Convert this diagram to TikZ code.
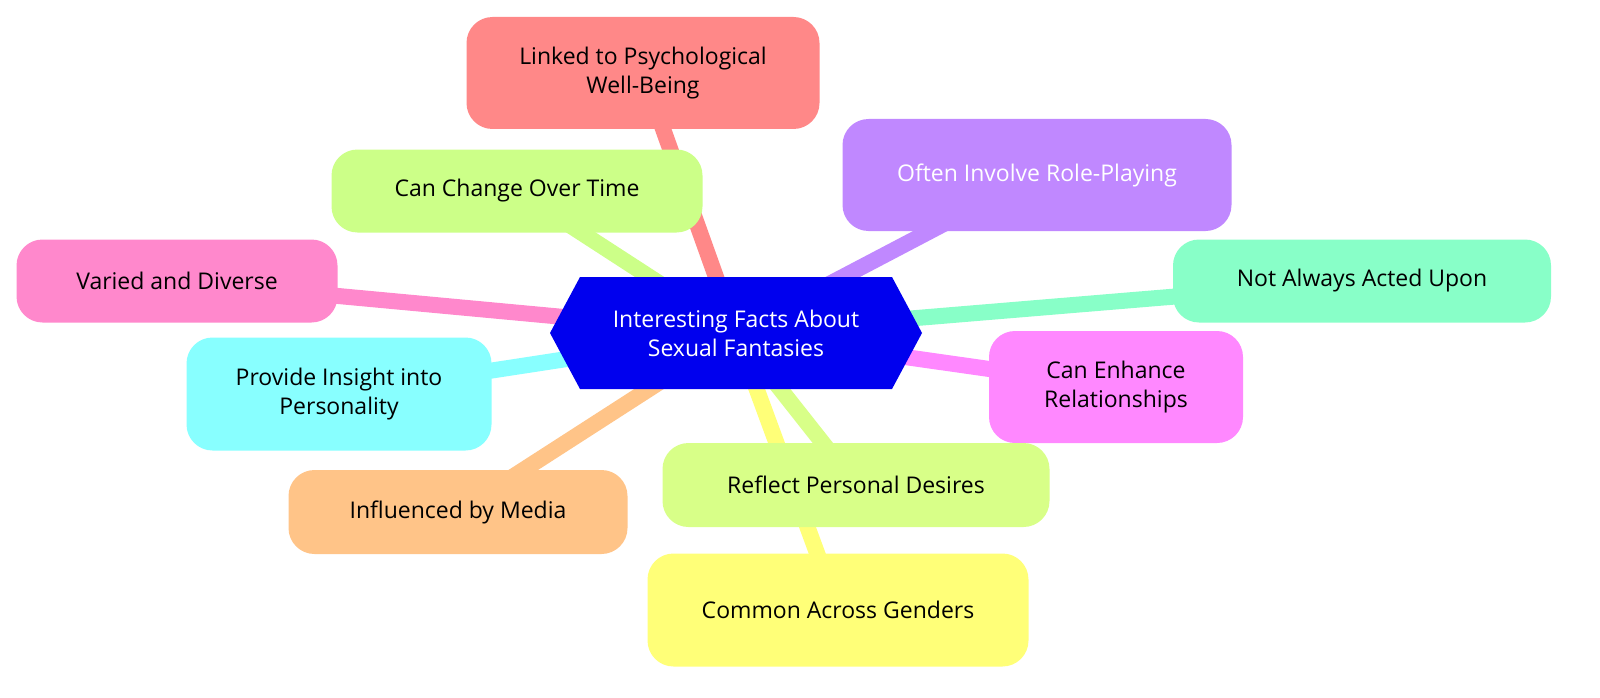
\documentclass[tikz,border=0pt]{standalone}
\usepackage{fontspec}
\setmainfont{Open Sans}
\definecolor{cA}{HTML}{FF8888}
\definecolor{cB}{HTML}{CCFF88}
\definecolor{cC}{HTML}{C088FF}
\definecolor{cD}{HTML}{FF88CC}
\definecolor{cE}{HTML}{88FFC8}
\definecolor{cF}{HTML}{88FFFF}
\definecolor{cG}{HTML}{FF88FF}
\definecolor{cH}{HTML}{D8FF88}
\definecolor{cI}{HTML}{FFC488}
\definecolor{cJ}{HTML}{FFFF78}
\definecolor{cBlue}{HTML}{0000EE}
\begin{document}
\begin{tikzpicture}[x=1pt,y=-1pt,
  leaf/.style={rounded corners=26pt,align=center,font=\fontsize{23}{29}\selectfont,inner sep=0pt},
  edge/.style={line width=16pt}]
\fill[white] (0,0) rectangle (1600,698);
\coordinate (m) at (736,333);
\coordinate (pa) at (643,73);
\coordinate (pb) at (517,191);
\coordinate (pc) at (1037,175);
\coordinate (pd) at (177,281);
\coordinate (pe) at (1362,281);
\coordinate (pf) at (339,394);
\coordinate (pg) at (1116,387);
\coordinate (ph) at (856,485);
\coordinate (pi) at (458,512);
\coordinate (pj) at (838,610);
\draw[edge,cA] (m) -- (pa);
\draw[edge,cB] (m) -- (pb);
\draw[edge,cC] (m) -- (pc);
\draw[edge,cD] (m) -- (pd);
\draw[edge,cE] (m) -- (pe);
\draw[edge,cF] (m) -- (pf);
\draw[edge,cG] (m) -- (pg);
\draw[edge,cJ] (m) -- (pj);
\draw[edge,cH] (m) -- (ph);
\draw[edge,cI] (m) -- (pi);
\node[leaf,fill=cA,minimum width=353pt,minimum height=112pt] (a) at (pa) {Linked to Psychological\\Well-Being};
\node[leaf,fill=cB,minimum width=371pt,minimum height=83pt] (b) at (pb) {Can Change Over Time};
\node[leaf,fill=cC,text=white,minimum width=389pt,minimum height=112pt] (c) at (pc) {Often Involve Role-Playing};
\node[leaf,fill=cD,minimum width=321pt,minimum height=83pt] (d) at (pd) {Varied and Diverse};
\node[leaf,fill=cE,minimum width=378pt,minimum height=83pt] (e) at (pe) {Not Always Acted Upon};
\node[leaf,fill=cF,minimum width=305pt,minimum height=113pt] (f) at (pf) {Provide Insight into\\Personality};
\node[leaf,fill=cG,minimum width=254pt,minimum height=112pt] (g) at (pg) {Can Enhance\\Relationships};
\node[leaf,fill=cH,minimum width=387pt,minimum height=84pt] (h) at (ph) {Reflect Personal Desires};
\node[leaf,fill=cI,minimum width=339pt,minimum height=84pt] (i) at (pi) {Influenced by Media};
\node[leaf,fill=cJ,minimum width=381pt,minimum height=113pt] (j) at (pj) {Common Across Genders};
\fill[cBlue] (550,333)--(580,277)--(892,277)--(922,333)--(892,389)--(580,389)--cycle;
\node[align=center,text=white,font=\fontsize{23}{29}\selectfont] (mt) at (m) {Interesting Facts About\\Sexual Fantasies};
\pgfresetboundingbox
\useasboundingbox (0,0) rectangle (1600,698);
\end{tikzpicture}
\end{document}
